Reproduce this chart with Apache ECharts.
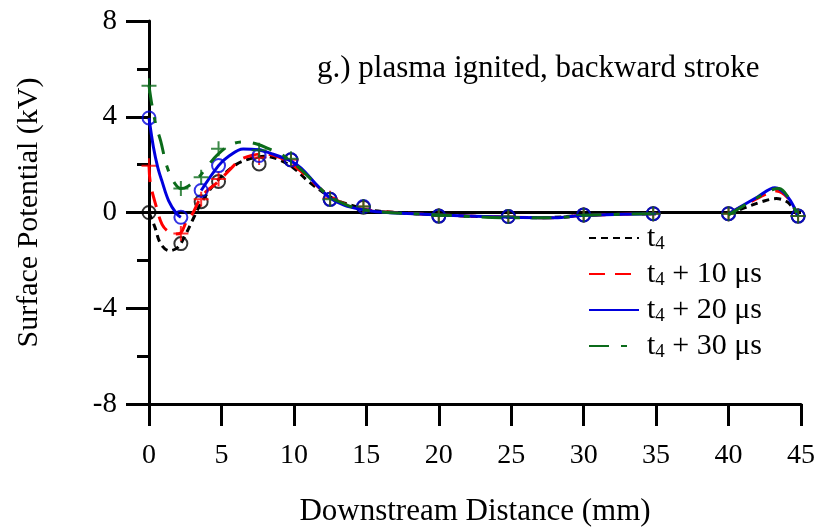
<!DOCTYPE html>
<html>
<head>
<meta charset="utf-8">
<script src="https://cdn.jsdelivr.net/npm/echarts@6/dist/echarts.min.js"></script>
<style>html,body{margin:0;padding:0;background:#fff}#c{width:824px;height:529px}</style>
</head>
<body>
<div id="c"></div>
<script>
// ---- data ----
var seriesNames = ['t4', 't4 + 10 μs', 't4 + 20 μs', 't4 + 30 μs'];
var xTicks = [0, 5, 10, 15, 20, 25, 30, 35, 40, 45];
var yTicks = [-8, -4, 0, 4, 8];
// measured points (markers)
var markerX = [0, 2.2, 3.6, 4.8, 7.6, 9.8, 12.5, 14.8, 20, 24.8, 30, 34.8, 40, 44.8];
var markT4   = [0, -1.3, 0.45, 1.3, 2.03, 2.2, 0.55, 0.22, -0.15, -0.17, -0.1, -0.05, -0.05, -0.15];
var markT10  = [1.95, -0.88, 0.55, 1.4, 2.3, 2.2, 0.6, 0.25, -0.15, -0.17, -0.1, -0.05, -0.05, -0.15];
var markT20  = [3.95, -0.2, 0.92, 1.96, 2.38, 2.2, 0.55, 0.25, -0.15, -0.17, -0.1, -0.05, -0.05, -0.15];
var markT30  = [5.3, 1.0, 1.47, 2.66, 2.6, 2.25, 0.55, 0.25, -0.15, -0.17, -0.1, -0.05, -0.05, -0.15];
// fitted curves; null = gap
var curveT4 = [[0,0],[0.4,-0.6],[0.8,-1.3],[1.4,-1.6],[2.0,-1.45],[2.5,-0.95],[3.1,-0.2],[3.6,0.4],[4.2,0.95],[5.0,1.5],[6.0,2.0],[7.0,2.25],[8.0,2.35],[9.0,2.2],[10.0,1.85],[11.0,1.3],[12.0,0.85],[13.0,0.5],[14.0,0.3],[15.0,0.12],[17,0.0],[20,-0.1],[22,-0.15],[25,-0.2],[27,-0.22],[30,-0.12],[33,-0.05],[35,-0.03],[null,null],[40,-0.05],[41,0.17],[42.3,0.45],[43.3,0.58],[44.1,0.42],[44.8,-0.15]];
var curveT10 = [[0,1.95],[0.1,1.2],[0.5,0.25],[0.9,-0.5],[1.3,-0.78],[1.8,-0.9],[2.2,-0.85],[2.6,-0.35],[3.0,-0.05],[3.5,0.55],[4.0,0.9],[4.8,1.3],[5.6,1.8],[6.3,2.2],[7.2,2.4],[8.0,2.45],[9.0,2.3],[10.0,1.95],[11.0,1.45],[12.0,0.9],[13.0,0.5],[14.0,0.25],[15.0,0.1],[17,0.0],[20,-0.1],[25,-0.2],[28,-0.22],[30,-0.12],[35,-0.05],[null,null],[40,-0.05],[42.5,0.75],[43.3,0.9],[44.1,0.6],[44.8,-0.15]];
var curveT20 = [[0,3.95],[0.3,2.75],[0.6,1.9],[0.9,1.3],[1.35,0.5],[1.9,-0.05],[2.2,-0.2],[null,null],[3.6,0.92],[4.8,1.96],[5.5,2.35],[6.5,2.65],[7.5,2.62],[8.5,2.45],[9.8,2.15],[10.5,1.85],[11.5,1.2],[12.5,0.6],[13.5,0.3],[14.5,0.15],[16,0.02],[20,-0.1],[25,-0.2],[28,-0.22],[30,-0.12],[35,-0.05],[null,null],[40,-0.05],[42,0.65],[43.2,1.03],[44.1,0.64],[44.8,-0.15]];
var curveT30 = [[0,5.3],[0.2,4.5],[0.5,3.6],[0.8,3.0],[1.25,1.9],[1.8,1.2],[2.2,1.0],[2.7,1.1],[3.4,1.45],[4.0,1.9],[4.7,2.4],[5.7,2.85],[6.6,2.95],[7.5,2.85],[8.5,2.6],[9.1,2.45],[10.0,2.05],[11.0,1.5],[11.6,1.13],[12.5,0.65],[13.5,0.35],[14.5,0.15],[16,0.02],[20,-0.1],[25,-0.22],[28,-0.22],[30,-0.12],[35,-0.05],[null,null],[40,-0.1],[42.2,0.7],[43.0,0.95],[43.5,1.0],[44.1,0.65],[44.8,-0.15]];

var FONT = '"Liberation Serif", "Times New Roman", serif';
var colors = ['#000000', '#ff0000', '#0000dd', '#0b6b1a'];
var dashes = [[7,5], [16,10], 'solid', [20,12,6,12]];
var curves = [curveT4, curveT10, curveT20, curveT30];
var marks = [markT4, markT10, markT20, markT30];
var plusPath = 'path://M6.5,0h2v15h-2z M0,6.5h15v2h-15z';
var symbols = ['circle', plusPath, 'circle', plusPath];

function zip(xs, ys){ return xs.map(function(x,i){ return [x, ys[i]]; }); }
function toData(c){ return c.map(function(p){ return p[0]===null ? '-' : p; }); }

var series = [{
  type: 'line', data: [], z: 1, silent: true,
  markLine: { silent: true, symbol: 'none', label: {show:false},
    lineStyle: {color:'#000', width: 3, type: 'solid'}, data: [{yAxis: 0}] }
}];
for (var i = 0; i < 4; i++) {
  series.push({
    name: seriesNames[i], type: 'line', data: toData(curves[i]), smooth: 0.35,
    connectNulls: false, showSymbol: false, symbol: 'none', z: 3 + i*2,
    lineStyle: { color: colors[i], width: 3, type: dashes[i] },
    itemStyle: { color: colors[i] }
  });
  var isCircle = symbols[i] === 'circle';
  series.push({
    name: seriesNames[i] + '_m', type: 'scatter', data: zip(markerX, marks[i]), z: 4 + i*2,
    symbol: symbols[i], symbolSize: isCircle ? 13 : 15,
    itemStyle: isCircle ? { color: 'rgba(0,0,0,0)', borderColor: colors[i], borderWidth: 2 } : { color: colors[i] }
  });
}

var rich = {
  t: { fontFamily: FONT, fontSize: 30, color: '#000', lineHeight: 32, verticalAlign: 'middle' },
  s: { fontFamily: FONT, fontSize: 19, color: '#000', lineHeight: 32, verticalAlign: 'bottom', padding: [11,0,0,0] }
};

var chart = echarts.init(document.getElementById('c'), null, {renderer: 'canvas'});
chart.setOption({
  animation: false,
  backgroundColor: '#fff',
  title: { text: 'g.) plasma ignited, backward stroke', left: 312, top: 48,
    textStyle: { fontFamily: FONT, fontSize: 31, fontWeight: 'normal', color: '#000' } },
  grid: { left: 149, right: 23, top: 21, bottom: 125, outerBoundsMode: 'none', containLabel: false },
  legend: {
    data: seriesNames, orient: 'vertical', left: 583, top: 218, itemGap: 5,
    itemWidth: 50, itemHeight: 14,
    itemStyle: { opacity: 0, borderWidth: 0 },
    formatter: function(n){ return '{t|t}{s|4}' + (n.length > 2 ? '{t|' + n.slice(2) + '}' : ''); },
    textStyle: { rich: rich, padding: [0,0,0,3] }
  },
  xAxis: {
    type: 'value', min: 0, max: 45, interval: 5,
    name: 'Downstream Distance (mm)', nameLocation: 'middle', nameGap: 92,
    nameTextStyle: { fontFamily: FONT, fontSize: 31, color: '#000' },
    axisLine: { onZero: false, lineStyle: { color: '#000', width: 3 } },
    axisTick: { length: 22, lineStyle: { color: '#000', width: 3 } },
    axisLabel: { margin: 38, fontFamily: FONT, fontSize: 28, color: '#000' },
    splitLine: { show: false }
  },
  yAxis: {
    type: 'value', min: -8, max: 8, interval: 4,
    name: 'Surface Potential (kV)', nameLocation: 'middle', nameGap: 105, nameRotate: 90,
    nameTextStyle: { fontFamily: FONT, fontSize: 30, color: '#000' },
    axisLine: { onZero: false, lineStyle: { color: '#000', width: 3 } },
    axisTick: { length: 23, lineStyle: { color: '#000', width: 3 } },
    minorTick: { show: true, splitNumber: 2, length: 12, lineStyle: { color: '#000', width: 3 } },
    axisLabel: { margin: 32, fontFamily: FONT, fontSize: 29, color: '#000',
      formatter: function(v){ return yTicks.indexOf(v) >= 0 ? String(v) : ''; } },
    splitLine: { show: false }
  },
  series: series
});
</script>
</body>
</html>
